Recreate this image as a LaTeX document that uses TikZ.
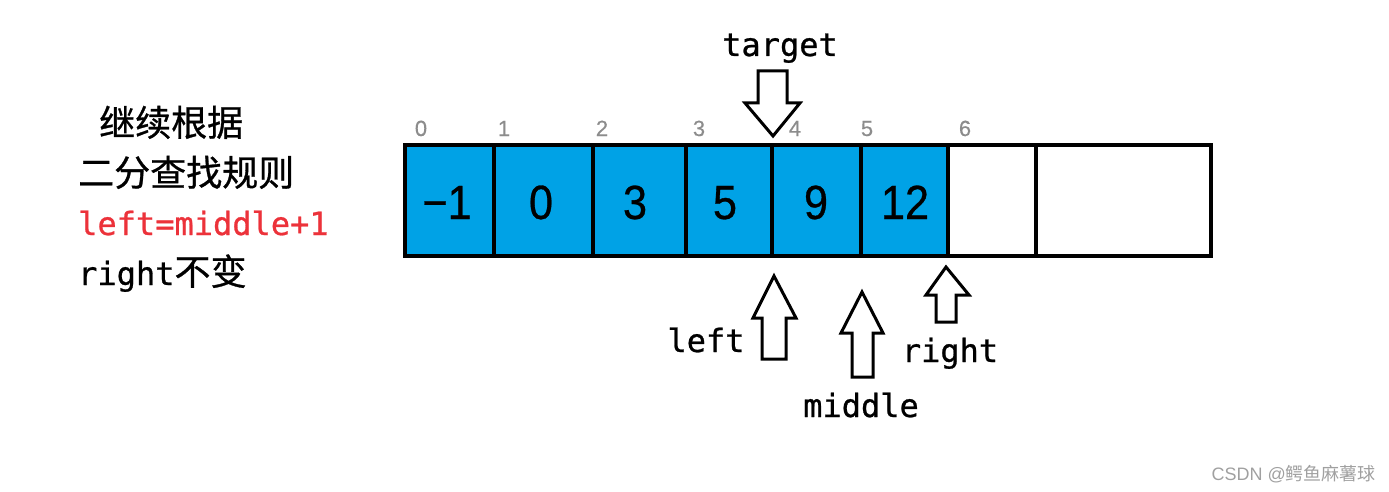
\documentclass[tikz,border=0pt]{standalone}
\usepackage{fontspec}
\setmainfont{Liberation Sans}
\newfontfamily\monofont[FakeBold=0.8]{DejaVu Sans Mono}
\newfontfamily\cjkfont[FakeBold=0.8]{Noto Sans CJK SC}
\newfontfamily\wmcjkfont{Noto Sans CJK SC}
\newfontfamily\digitfont[FakeStretch=0.9,FakeBold=0.6]{Liberation Sans}
\newfontfamily\idxfont[FakeBold=0.4]{Liberation Sans}
\definecolor{cellblue}{RGB}{0,162,230}
\definecolor{idxgray}{RGB}{140,140,140}
\definecolor{redtxt}{RGB}{236,50,58}
\definecolor{wmgray}{RGB}{160,160,160}
\tikzset{
  cell/.style={draw=black, line width=4pt, inner sep=0pt, minimum height=111pt, fill=cellblue},
  emptycell/.style={cell, fill=white},
  val/.style={font=\digitfont\fontsize{48}{56}\selectfont, anchor=base, inner sep=0pt},
  idx/.style={font=\idxfont\fontsize{22}{26}\selectfont, text=idxgray, anchor=base, inner sep=0pt},
  lbl/.style={font=\monofont\fontsize{32}{38}\selectfont, anchor=base, inner sep=0pt},
  blockarrow/.style={draw=black, line width=3pt, fill=white, line join=miter},
  side/.style={anchor=base west, inner sep=0pt},
}
\begin{document}
\begin{tikzpicture}[x=1pt,y=-1pt]
\useasboundingbox (0,0) rectangle (1389,492);
% cells
\node[cell, minimum width=89pt] (c0) at (449.5,200.5) {};
\node[cell, minimum width=99pt] (c1) at (543.5,200.5) {};
\node[cell, minimum width=93pt] (c2) at (639.5,200.5) {};
\node[cell, minimum width=86pt] (c3) at (729,200.5) {};
\node[cell, minimum width=89pt] (c4) at (816.5,200.5) {};
\node[cell, minimum width=87pt] (c5) at (904.5,200.5) {};
\node[emptycell, minimum width=88pt] (c6) at (992,200.5) {};
\node[emptycell, minimum width=175pt] (c7) at (1123.5,200.5) {};
% values
\node[val] (v0) at (447,219) {−1};
\node[val] (v1) at (541,219) {0};
\node[val] (v2) at (635,219) {3};
\node[val] (v3) at (725,219) {5};
\node[val] (v4) at (816,219) {9};
\node[val] (v5) at (905,219) {12};
% indices
\node[idx] (i0) at (421,136) {0};
\node[idx] (i1) at (504,136) {1};
\node[idx] (i2) at (602,136) {2};
\node[idx] (i3) at (699,136) {3};
\node[idx] (i4) at (795,136) {4};
\node[idx] (i5) at (867,136) {5};
\node[idx] (i6) at (965,136) {6};
% target arrow (down)
\draw[blockarrow] (758,71) -- (787,71) -- (787,103) -- (800,103) -- (773,136) -- (745,103) -- (758,103) -- cycle;
\node[lbl] (target) at (780,56) {target};
% left arrow (up)
\draw[blockarrow] (774,276) -- (796,318) -- (786,318) -- (786,359) -- (762,359) -- (762,318) -- (753,318) -- cycle;
\node[lbl] (left) at (706,352) {left};
% middle arrow (up)
\draw[blockarrow] (862,292) -- (883,333) -- (873,333) -- (873,377) -- (852,377) -- (852,333) -- (841,333) -- cycle;
\node[lbl] (middle) at (861,417) {middle};
% right arrow (up)
\draw[blockarrow] (946,267) -- (969,295) -- (956,295) -- (956,322) -- (936,322) -- (936,295) -- (926,295) -- cycle;
\node[lbl] (right) at (950,362) {right};
% side text
\node[side, font=\cjkfont\fontsize{36}{42}\selectfont] (t1) at (99,136) {继续根据};
\node[side, font=\cjkfont\fontsize{36}{42}\selectfont] (t2) at (78,186) {二分查找规则};
\node[side, font=\monofont\fontsize{32}{38}\selectfont, text=redtxt] (t3) at (78,235) {left=middle+1};
\node[side, font=\fontsize{32}{38}\selectfont] (t4) at (78,285) {{\monofont right}{\cjkfont\fontsize{36}{42}\selectfont 不变}};
% watermark
\node[anchor=base east, inner sep=0pt, text=wmgray, font=\fontsize{18}{22}\selectfont] (wm) at (1376,480) {CSDN @{\wmcjkfont 鳄鱼麻薯球}};
\end{tikzpicture}
\end{document}
